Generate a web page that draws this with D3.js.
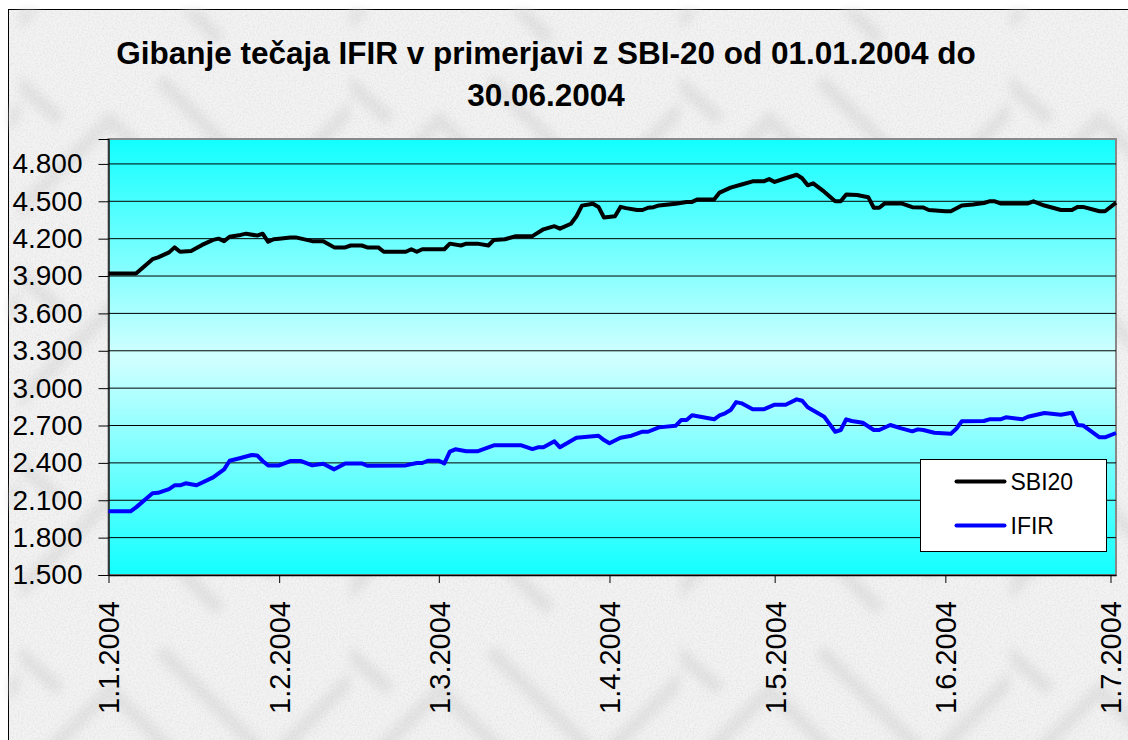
<!DOCTYPE html>
<html lang="sl">
<meta charset="utf-8">
<title>Gibanje tečaja IFIR v primerjavi z SBI-20</title>
<style>
  body { margin: 0; background: #fff; }
  svg { display: block; font-family: "Liberation Sans", Arial, sans-serif; }
</style>
<body>
  <div id="chart"></div>
  <script src="https://d3js.org/d3.v7.min.js"></script>
  <script>

    // values (index points)
    var sbiDates = ["2004-01-01", "2004-01-06", "2004-01-09", "2004-01-10", "2004-01-12", "2004-01-13", "2004-01-14", "2004-01-16", "2004-01-18", "2004-01-20",
      "2004-01-21", "2004-01-22", "2004-01-23", "2004-01-25", "2004-01-26", "2004-01-28", "2004-01-29", "2004-01-30", "2004-01-31", "2004-02-01",
      "2004-02-03", "2004-02-04", "2004-02-07", "2004-02-09", "2004-02-11", "2004-02-13", "2004-02-14", "2004-02-16", "2004-02-17", "2004-02-19",
      "2004-02-20", "2004-02-24", "2004-02-25", "2004-02-26", "2004-02-27", "2004-03-02", "2004-03-03", "2004-03-05", "2004-03-06", "2004-03-08",
      "2004-03-10", "2004-03-11", "2004-03-13", "2004-03-15", "2004-03-18", "2004-03-20", "2004-03-22", "2004-03-23", "2004-03-25", "2004-03-26",
      "2004-03-27", "2004-03-29", "2004-03-30", "2004-03-31", "2004-04-02", "2004-04-03", "2004-04-04", "2004-04-06", "2004-04-07", "2004-04-08",
      "2004-04-09", "2004-04-10", "2004-04-13", "2004-04-15", "2004-04-16", "2004-04-17", "2004-04-20", "2004-04-21", "2004-04-23", "2004-04-25",
      "2004-04-27", "2004-04-29", "2004-04-30", "2004-05-01", "2004-05-03", "2004-05-05", "2004-05-06", "2004-05-07", "2004-05-08", "2004-05-10",
      "2004-05-12", "2004-05-13", "2004-05-14", "2004-05-16", "2004-05-18", "2004-05-19", "2004-05-20", "2004-05-21", "2004-05-24", "2004-05-26",
      "2004-05-28", "2004-05-29", "2004-06-01", "2004-06-02", "2004-06-04", "2004-06-06", "2004-06-08", "2004-06-09", "2004-06-10", "2004-06-11",
      "2004-06-16", "2004-06-17", "2004-06-19", "2004-06-22", "2004-06-24", "2004-06-25", "2004-06-26", "2004-06-29", "2004-06-30", "2004-07-02"];
    var sbiValues = [3920, 3920, 4035, 4050, 4090, 4130, 4095, 4100, 4150, 4190,
      4200, 4180, 4215, 4230, 4240, 4225, 4240, 4175, 4195, 4200,
      4210, 4210, 4180, 4180, 4130, 4130, 4145, 4145, 4130, 4130,
      4095, 4095, 4115, 4095, 4115, 4115, 4160, 4145, 4160, 4160,
      4145, 4190, 4195, 4220, 4220, 4275, 4300, 4280, 4320, 4380,
      4465, 4480, 4455, 4370, 4380, 4455, 4445, 4430, 4430, 4448,
      4453, 4467, 4480, 4495, 4495, 4515, 4515, 4570, 4610, 4635,
      4660, 4660, 4678, 4655, 4685, 4713, 4685, 4628, 4644, 4577,
      4500, 4500, 4555, 4550, 4533, 4448, 4448, 4483, 4483, 4453,
      4450, 4430, 4420, 4420, 4466, 4475, 4486, 4500, 4500, 4483,
      4483, 4500, 4466, 4430, 4430, 4455, 4455, 4420, 4420, 4488];

    var ifirDates = ["2004-01-01", "2004-01-05", "2004-01-06", "2004-01-09", "2004-01-10", "2004-01-12", "2004-01-13", "2004-01-14", "2004-01-15", "2004-01-17",
      "2004-01-20", "2004-01-22", "2004-01-23", "2004-01-25", "2004-01-27", "2004-01-28", "2004-01-29", "2004-01-30", "2004-02-01", "2004-02-03",
      "2004-02-05", "2004-02-07", "2004-02-09", "2004-02-11", "2004-02-13", "2004-02-16", "2004-02-17", "2004-02-24", "2004-02-26", "2004-02-27",
      "2004-02-28", "2004-03-01", "2004-03-02", "2004-03-03", "2004-03-04", "2004-03-06", "2004-03-08", "2004-03-11", "2004-03-16", "2004-03-18",
      "2004-03-19", "2004-03-20", "2004-03-22", "2004-03-23", "2004-03-26", "2004-03-30", "2004-03-31", "2004-04-01", "2004-04-03", "2004-04-05",
      "2004-04-07", "2004-04-08", "2004-04-10", "2004-04-13", "2004-04-14", "2004-04-15", "2004-04-16", "2004-04-20", "2004-04-21", "2004-04-22",
      "2004-04-23", "2004-04-24", "2004-04-25", "2004-04-27", "2004-04-29", "2004-05-01", "2004-05-03", "2004-05-05", "2004-05-06", "2004-05-07",
      "2004-05-10", "2004-05-12", "2004-05-13", "2004-05-14", "2004-05-15", "2004-05-17", "2004-05-19", "2004-05-20", "2004-05-22", "2004-05-24",
      "2004-05-26", "2004-05-27", "2004-05-28", "2004-05-30", "2004-06-02", "2004-06-03", "2004-06-04", "2004-06-08", "2004-06-09", "2004-06-11",
      "2004-06-12", "2004-06-15", "2004-06-16", "2004-06-19", "2004-06-22", "2004-06-24", "2004-06-25", "2004-06-26", "2004-06-29", "2004-06-30",
      "2004-07-02"];
    var ifirValues = [2011, 2011, 2043, 2156, 2160, 2190, 2220, 2220, 2236, 2220,
      2284, 2348, 2417, 2439, 2463, 2460, 2415, 2380, 2380, 2415,
      2415, 2380, 2393, 2348, 2396, 2396, 2377, 2380, 2399, 2399,
      2417, 2417, 2396, 2490, 2509, 2493, 2493, 2541, 2541, 2511,
      2525, 2525, 2573, 2525, 2602, 2618, 2583, 2557, 2602, 2618,
      2650, 2650, 2685, 2698, 2744, 2744, 2782, 2750, 2782, 2798,
      2824, 2888, 2878, 2830, 2830, 2867, 2867, 2910, 2899, 2846,
      2770, 2650, 2664, 2750, 2736, 2722, 2664, 2664, 2704, 2677,
      2653, 2669, 2664, 2642, 2634, 2674, 2734, 2736, 2750, 2750,
      2766, 2750, 2770, 2800, 2787, 2803, 2704, 2701, 2605, 2605,
      2640];

    var seriesNames = ["SBI20", "IFIR"];
    var xTickDates = ["2004-01-01", "2004-02-01", "2004-03-01", "2004-04-01", "2004-05-01", "2004-06-01", "2004-07-01"];
    var xTickLabels = ["1.1.2004", "1.2.2004", "1.3.2004", "1.4.2004", "1.5.2004", "1.6.2004", "1.7.2004"];
    var yTicks = [1500, 1800, 2100, 2400, 2700, 3000, 3300, 3600, 3900, 4200, 4500, 4800];

    var W = 1128, H = 740;
    var margin = { top: 139, right: 12, bottom: 165, left: 108.5 },
      width = W - margin.left - margin.right,
      height = H - margin.top - margin.bottom;

    var parse = d3.timeParse("%Y-%m-%d");
    var fmt = d3.formatLocale({ decimal: ",", thousands: ".", grouping: [3], currency: ["", ""] }).format(",d");

    var svg = d3.select("#chart").append("svg")
      .attr("width", W)
      .attr("height", H);

    var defs = svg.append("defs");

    // plot area gradient: cyan at edges, pale in the middle
    var grad = defs.append("linearGradient")
      .attr("id", "plotGrad")
      .attr("x1", 0).attr("y1", 0).attr("x2", 0).attr("y2", 1);
    grad.append("stop").attr("offset", "0%").attr("stop-color", "#12ffff");
    grad.append("stop").attr("offset", "50%").attr("stop-color", "#d2ffff");
    grad.append("stop").attr("offset", "100%").attr("stop-color", "#12ffff");

    // marble like chart background
    var noise = defs.append("filter").attr("id", "noise")
      .attr("x", 0).attr("y", 0).attr("width", "100%").attr("height", "100%");
    noise.append("feTurbulence")
      .attr("type", "fractalNoise").attr("baseFrequency", 0.6).attr("numOctaves", 2).attr("seed", 3);
    noise.append("feColorMatrix").attr("type", "matrix")
      .attr("values", "0 0 0 0 0.5  0 0 0 0 0.5  0 0 0 0 0.5  1.3 0 0 0 -0.5");

    var blur = defs.append("filter").attr("id", "soft");
    blur.append("feGaussianBlur").attr("stdDeviation", 5);

    var pat = defs.append("pattern")
      .attr("id", "chev")
      .attr("patternUnits", "userSpaceOnUse")
      .attr("width", 330).attr("height", 190)
      .attr("x", 20).attr("y", 60);
    pat.append("path")
      .attr("d", "M-20,170 L90,60 L200,170 M140,20 L250,130 L360,20 M-60,-30 L40,60")
      .attr("fill", "none")
      .attr("stroke", "#d8d8d8")
      .attr("stroke-width", 14);

    var bg = svg.append("g");
    bg.append("rect")
      .attr("x", 8.5).attr("y", 9.5)
      .attr("width", W).attr("height", H)
      .attr("fill", "#f3f3f3")
      .attr("stroke", "#000")
      .attr("stroke-width", 1);
    bg.append("rect")
      .attr("x", 9).attr("y", 10)
      .attr("width", W).attr("height", H)
      .attr("fill", "url(#chev)")
      .attr("filter", "url(#soft)")
      .attr("opacity", 0.6);
    bg.append("rect")
      .attr("x", 9).attr("y", 10)
      .attr("width", W).attr("height", H)
      .attr("filter", "url(#noise)")
      .attr("opacity", 0.4);

    // title
    var title = svg.append("text")
      .attr("text-anchor", "middle")
      .attr("font-weight", "bold")
      .attr("font-size", 31.5)
      .attr("fill", "#000");
    title.append("tspan").attr("x", 546).attr("y", 64)
      .text("Gibanje tečaja IFIR v primerjavi z SBI-20 od 01.01.2004 do");
    title.append("tspan").attr("x", 546).attr("y", 106)
      .text("30.06.2004");

    var g = svg.append("g")
      .attr("transform", "translate(" + margin.left + "," + margin.top + ")");

    var x = d3.scaleTime()
      .domain([parse("2004-01-01"), parse("2004-07-02")])
      .range([0, width]);

    var y = d3.scaleLinear()
      .domain([1500, 5000])
      .range([height, 0]);

    // plot area
    g.append("rect")
      .attr("width", width)
      .attr("height", height)
      .attr("fill", "url(#plotGrad)")
      .attr("stroke", "#888")
      .attr("stroke-width", 2);

    // gridlines
    g.append("g")
      .selectAll("line")
      .data(yTicks.slice(1))
      .join("line")
      .attr("x1", 0).attr("x2", width)
      .attr("y1", d => y(d)).attr("y2", d => y(d))
      .attr("stroke", "#000")
      .attr("stroke-width", 1);

    // Y axis
    var yAxis = g.append("g")
      .call(d3.axisLeft(y).tickValues(yTicks).tickFormat(fmt).tickSize(10).tickPadding(16));
    yAxis.select(".domain").attr("stroke", "#000").attr("stroke-width", 1.2);
    yAxis.selectAll("text")
      .attr("font-size", 28)
      .attr("font-family", "'Liberation Sans', Arial, sans-serif")
      .attr("fill", "#000");

    // X axis
    var xAxis = g.append("g")
      .attr("transform", "translate(0," + height + ")")
      .call(d3.axisBottom(x)
        .tickValues(xTickDates.map(parse))
        .tickFormat((d, i) => xTickLabels[i])
        .tickSize(8)
        .tickSizeOuter(0));
    xAxis.select(".domain").attr("stroke", "#000").attr("stroke-width", 1.5);
    xAxis.selectAll("text")
      .attr("font-size", 29)
      .attr("font-family", "'Liberation Sans', Arial, sans-serif")
      .attr("fill", "#000")
      .attr("text-anchor", "end")
      .attr("transform", "rotate(-90)")
      .attr("x", -26)
      .attr("y", 0)
      .attr("dy", "0.36em");

    // lines
    var line = d3.line()
      .x(d => x(d.date))
      .y(d => y(d.value));

    var sbi = sbiDates.map((d, i) => ({ date: parse(d), value: sbiValues[i] }));
    var ifir = ifirDates.map((d, i) => ({ date: parse(d), value: ifirValues[i] }));

    g.append("path")
      .datum(sbi)
      .attr("fill", "none")
      .attr("stroke", "#000")
      .attr("stroke-width", 4)
      .attr("stroke-linejoin", "round")
      .attr("d", line);

    g.append("path")
      .datum(ifir)
      .attr("fill", "none")
      .attr("stroke", "#0000ff")
      .attr("stroke-width", 4)
      .attr("stroke-linejoin", "round")
      .attr("d", line);

    // legend
    var legend = svg.append("g").attr("transform", "translate(920.5,459.5)");
    legend.append("rect")
      .attr("width", 186).attr("height", 92)
      .attr("fill", "#fff")
      .attr("stroke", "#000")
      .attr("stroke-width", 1);
    var colors = ["#000", "#0000ff"];
    seriesNames.forEach((name, i) => {
      var ly = 22 + i * 44;
      legend.append("line")
        .attr("x1", 36).attr("x2", 84)
        .attr("y1", ly).attr("y2", ly)
        .attr("stroke", colors[i])
        .attr("stroke-width", 4)
        .attr("stroke-linecap", "round");
      legend.append("text")
        .attr("x", 90).attr("y", ly)
        .attr("dy", "0.36em")
        .attr("font-size", 23)
        .attr("fill", "#000")
        .text(name);
    });

  </script>
</body>
</html>
